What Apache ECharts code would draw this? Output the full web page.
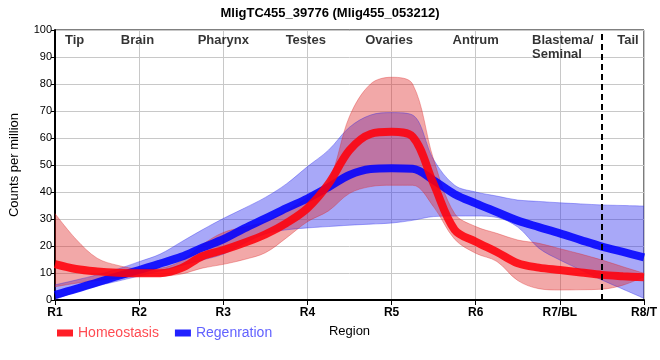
<!DOCTYPE html>
<html><head><meta charset="utf-8">
<script src="https://cdn.jsdelivr.net/npm/echarts@6/dist/echarts.min.js"></script>
<style>html,body{margin:0;padding:0;background:#fff}#c{width:660px;height:360px}</style>
</head><body><div id="c"></div>
<script>
const xSamples = [1,1.25,1.5,1.75,2,2.25,2.5,2.75,3,3.25,3.5,3.75,4,4.25,4.5,4.75,5,5.25,5.5,5.75,6,6.25,6.5,6.75,7,7.25,7.5,7.75,8];
const tickLabels = ['R1','R2','R3','R4','R5','R6','R7/BL','R8/T'];
const homeoMean = [13.3,11.5,10.6,10.1,9.9,9.9,11.8,16.2,18.5,21.2,24.3,28.5,34,43,55.5,61.5,62.3,60.5,43,26,21.6,17.8,13.6,12,11.1,10.2,9.3,8.8,8.4];
const homeoHigh = [32,22.5,15.5,12.8,11.6,11.8,14.5,20.5,25,27,29,33,38,44,68,80,82.5,80,52,32,27.2,24.7,22.2,21,19,17,14.8,12.3,9.9];
const homeoLow  = [4.9,6.2,7.2,8.1,8.9,8.9,9.6,11.8,13.2,15,17.5,23,29,33,39.5,42,42.5,42.5,34.5,22.5,17.3,14.3,7.2,4.2,3.7,3.8,4,5.5,8.6];
const regenMean = [1.9,4.1,6.5,8.9,11.1,13.5,16,19.4,22.5,26.5,30.2,34,37.6,41.8,46.3,48.5,48.8,48.6,44.3,39.2,35.8,32.6,29.4,27,24.7,22.2,19.8,17.8,15.8];
const regenHigh = [5.6,7.4,9.3,11.5,14.2,17,21.5,26,30.2,34,38,43,49.4,55.5,64,68.5,69.4,68.5,52,42.5,40,38.5,37,36.5,36,35.6,35.2,35,34.8];
const regenLow  = [0.2,3,5.2,7,8.9,10.8,12.8,14.8,17,21,24.5,26,26.7,27.2,27.7,28.1,28.5,29.5,30.9,31.1,31.1,30.6,27,19.2,14.8,11.1,7.4,4,0.6];
const regionNames = ['Tip','Brain','Pharynx','Testes','Ovaries','Antrum','Blastema/\nSeminal','Tail'];
const regionLabelX = [1.233,1.98,3.0,3.98,4.97,6.0,6.67,7.81];
const regionLabelY = 98.7;
const dividerX = 7.5;

const NARROW = "'Liberation Sans Narrow','Arial Narrow','Liberation Sans',sans-serif";
const SANS = "'Liberation Sans',Arial,sans-serif";
const cats = xSamples.map(String);
const isTick = (i) => xSamples[i] % 1 === 0;
const diff = (hi, lo) => hi.map((v, i) => +(v - lo[i]).toFixed(2));

const redLine = 'rgba(255,0,10,0.88)';
const blueLine = 'rgba(0,0,255,0.87)';
const redBand = 'rgba(222,37,37,0.4)';
const blueBand = 'rgba(37,37,237,0.4)';
const SM = 0.35;

function bandSeries(name, lo, hi, band, edge, stack) {
  return [
    { name: name + 'Low', type: 'line', stack: stack, data: lo, smooth: SM, symbol: 'none',
      lineStyle: { width: 1, color: edge }, silent: true, z: 2 },
    { name: name + 'High', type: 'line', stack: stack, data: diff(hi, lo), smooth: SM, symbol: 'none',
      lineStyle: { width: 1, color: edge }, areaStyle: { color: band, opacity: 1 }, silent: true, z: 2 }
  ];
}

const chart = echarts.init(document.getElementById('c'), null, { renderer: 'canvas' });
chart.setOption({
  animation: false,
  backgroundColor: '#fff',
  title: { text: 'MligTC455_39776 (Mlig455_053212)', left: 'center', top: 2,
    textStyle: { fontFamily: NARROW, fontWeight: 'bold', fontSize: 13, color: '#000' } },
  grid: { left: 49, right: 10, top: 30, bottom: 60, show: true, borderColor: '#000', borderWidth: 1 },
  legend: {
    left: 52, top: 321, itemWidth: 16, itemHeight: 7, itemGap: 16, icon: 'rect',
    textStyle: { fontFamily: NARROW, fontSize: 14 },
    data: [
      { name: 'Homeostasis', textStyle: { color: '#ff4b52' } },
      { name: 'Regenration', textStyle: { color: '#6262ff' } }
    ]
  },
  xAxis: [{
    type: 'category', data: cats, boundaryGap: false,
    name: 'Region', nameLocation: 'middle', nameGap: 25,
    nameTextStyle: { fontFamily: NARROW, fontSize: 13, color: '#000' },
    axisLine: { lineStyle: { color: '#000', width: 2 } },
    axisTick: { interval: isTick, length: 5, lineStyle: { color: '#000', width: 1 } },
    axisLabel: { interval: isTick, formatter: (v) => tickLabels[Number(v) - 1], margin: 7,
      fontFamily: NARROW, fontWeight: 'bold', fontSize: 12, color: '#000' },
    splitLine: { show: true, interval: isTick, lineStyle: { color: '#c8c8c8', width: 1 } }
  }, {
    type: 'value', min: 1, max: 8, show: false
  }],
  yAxis: {
    type: 'value', min: 0, max: 100, interval: 10,
    name: 'Counts per million', nameLocation: 'middle', nameGap: 34,
    nameTextStyle: { fontFamily: SANS, fontSize: 13, color: '#000' },
    axisLine: { show: true, lineStyle: { color: '#000', width: 2 } },
    axisTick: { show: true, length: 4, lineStyle: { color: '#000' } },
    axisLabel: { fontFamily: SANS, fontSize: 11, color: '#000', margin: 3 },
    splitLine: { lineStyle: { color: '#c8c8c8', width: 1 } }
  },
  series: [
    ...bandSeries('regen', regenLow, regenHigh, blueBand, 'rgba(37,37,237,0.35)', 'bb'),
    { name: 'Regenration', type: 'line', data: regenMean, smooth: SM, symbol: 'none',
      color: blueLine, lineStyle: { width: 8, color: blueLine }, itemStyle: { color: blueLine }, z: 3 },
    ...bandSeries('homeo', homeoLow, homeoHigh, redBand, 'rgba(222,37,37,0.35)', 'rb'),
    { name: 'Homeostasis', type: 'line', data: homeoMean, smooth: SM, symbol: 'none',
      color: redLine, lineStyle: { width: 8, color: redLine }, itemStyle: { color: redLine }, z: 4,
      markLine: { silent: true, symbol: 'none', label: { show: false },
        lineStyle: { color: '#000', width: 2, type: [6, 4] },
        data: [{ xAxis: String(dividerX) }] } },
    { name: 'regions', type: 'scatter', xAxisIndex: 1, symbolSize: 0, silent: true, z: 6,
      data: regionNames.map((n, i) => ({ value: [regionLabelX[i], regionLabelY],
        label: { align: n.indexOf('\n') >= 0 ? 'left' : 'center' } })),
      label: { show: true, position: 'inside', verticalAlign: 'top', lineHeight: 14,
        formatter: (p) => regionNames[p.dataIndex],
        fontFamily: NARROW, fontWeight: 'bold', fontSize: 13, color: '#000' } }
  ]
});
</script></body></html>
